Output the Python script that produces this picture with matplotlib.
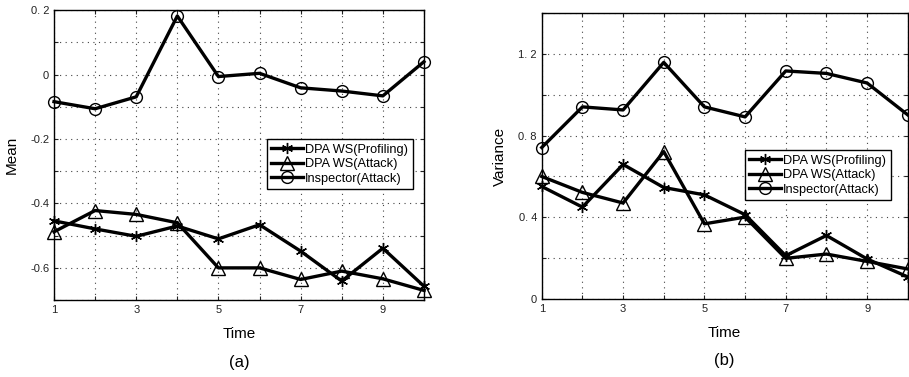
import matplotlib
matplotlib.use("Agg")
import matplotlib.pyplot as plt
import numpy as np

plt.rcParams['font.family'] = ['Liberation Sans', 'DejaVu Sans']

time = [1, 2, 3, 4, 5, 6, 7, 8, 9, 10]

mean_profiling = [-0.454, -0.479, -0.502, -0.470, -0.510, -0.466, -0.548, -0.641, -0.539, -0.657]
mean_attack = [-0.488, -0.422, -0.434, -0.460, -0.600, -0.600, -0.636, -0.610, -0.634, -0.670]
mean_inspector = [-0.084, -0.106, -0.069, 0.182, -0.006, 0.004, -0.041, -0.051, -0.066, 0.040]

var_profiling = [0.551, 0.450, 0.659, 0.546, 0.510, 0.413, 0.212, 0.311, 0.196, 0.108]
var_attack = [0.600, 0.522, 0.470, 0.722, 0.368, 0.401, 0.199, 0.220, 0.184, 0.147]
var_inspector = [0.742, 0.941, 0.926, 1.159, 0.941, 0.892, 1.117, 1.105, 1.058, 0.902]

series_labels = ['DPA WS(Profiling)', 'DPA WS(Attack)', 'Inspector(Attack)']
markers = [(6, 2, 0), '^', 'o']
marker_sizes = [8, 9.5, 8.5]

x_ticklabels = ['1', '', '3', '', '5', '', '7', '', '9', '']
mean_yticks = [-0.7, -0.6, -0.5, -0.4, -0.3, -0.2, -0.1, 0.0, 0.1, 0.2]
mean_yticklabels = ['', '-0.6', '', '-0.4', '', '-0.2', '', '0', '', '0. 2']
var_yticks = [0.0, 0.2, 0.4, 0.6, 0.8, 1.0, 1.2, 1.4]
var_yticklabels = ['0', '', '0. 4', '', '0. 8', '', '1. 2', '']

fig = plt.figure(figsize=(9.09, 3.77), dpi=100)
ax1 = fig.add_axes([0.0594, 0.204, 0.407, 0.769])
ax2 = fig.add_axes([0.596, 0.207, 0.4026, 0.758])


def style(ax, data, yticks, yticklabels, ylim, ylabel, sub, legend_bbox):
    for vals, m, ms, lab in zip(data, markers, marker_sizes, series_labels):
        ax.plot(time, vals, color='black', lw=2.4, marker=m, ms=ms,
                mfc='none', mec='black', mew=1.0, label=lab, clip_on=False)
    ax.set_xlim(1, 10)
    ax.set_ylim(*ylim)
    ax.set_xticks(time)
    ax.set_xticklabels(x_ticklabels, fontsize=8)
    ax.set_yticks(yticks)
    ax.set_yticklabels(yticklabels, fontsize=8)
    ax.tick_params(direction='in', top=True, right=True, length=3, width=0.8, colors='#222222')
    ax.grid(True, linestyle=(0, (1, 4)), color='#444444', lw=0.8)
    for sp in ax.spines.values():
        sp.set_linewidth(1.0)
    ax.set_xlabel('Time', fontsize=11, labelpad=9)
    ax.set_ylabel(ylabel, fontsize=11, labelpad=8)
    ax.text(0.5, -0.215, sub, transform=ax.transAxes, ha='center', va='center', fontsize=12)
    leg = ax.legend(loc='upper left', bbox_to_anchor=legend_bbox, fontsize=9.2,
                    frameon=True, fancybox=False, edgecolor='black', framealpha=1,
                    handlelength=2.5, handletextpad=0.15, borderpad=0.35,
                    labelspacing=0.2, borderaxespad=0)
    leg.get_frame().set_linewidth(1.0)


style(ax1, [mean_profiling, mean_attack, mean_inspector], mean_yticks, mean_yticklabels,
      (-0.7, 0.2), 'Mean', '(a)', (0.575, 0.555))
style(ax2, [var_profiling, var_attack, var_inspector], var_yticks, var_yticklabels,
      (0.0, 1.4), 'Variance', '(b)', (0.555, 0.52))

fig.savefig('out.png', dpi=100)
